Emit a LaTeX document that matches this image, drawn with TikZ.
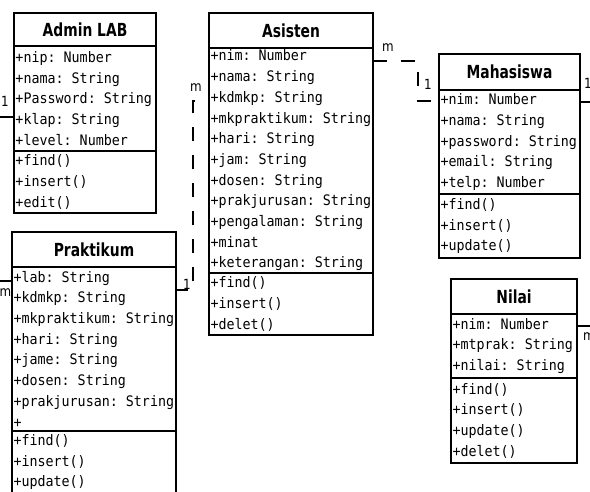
\documentclass[tikz,border=0pt]{standalone}
\usepackage{fontspec}
\usepackage{tikz}
\usetikzlibrary{positioning}
\newfontfamily\attrfont[FakeStretch=0.92]{DejaVu Sans Mono}
\newfontfamily\headfont[FakeStretch=0.77]{DejaVu Sans}
\newfontfamily\multfont[FakeStretch=0.85]{DejaVu Sans}
\newcommand\gap{\hphantom{0}}

\begin{document}
\begin{tikzpicture}[x=1pt, y=-1pt,
    umlhead/.style={draw, line width=1.5pt, outer sep=0pt, inner sep=0pt, anchor=north west,
        font=\headfont\bfseries\fontsize{18}{20}\selectfont},
    umlbody/.style={draw, line width=1.5pt, outer sep=0pt, inner xsep=1.5pt, inner ysep=0pt,
        align=left, font=\attrfont\fontsize{14.5}{20.7}\selectfont},
    assoc/.style={line width=1.5pt},
    dep/.style={line width=1.5pt, dash pattern=on 14pt off 14pt},
    mult/.style={font=\multfont\fontsize{14}{15}\selectfont, inner sep=0pt}]

\path[use as bounding box, clip] (0,0) rectangle (590,491);

% Admin LAB
\node[umlhead, minimum width=142, minimum height=33] (admin) at (14,13) {Admin LAB};
\node[umlbody, text width=139pt, minimum height=105pt, below=0pt of admin] (adminattr)
    {+nip:\gap Number\\+nama:\gap String\\+Password:\gap String\\+klap:\gap String\\+level:\gap Number};
\node[umlbody, text width=139pt, minimum height=62pt, below=0pt of adminattr] (adminops)
    {+find()\\+insert()\\+edit()};

% Asisten
\node[umlhead, minimum width=164, minimum height=35] (asisten) at (209,13) {Asisten};
\node[umlbody, text width=161pt, minimum height=225pt, below=0pt of asisten] (asattr)
    {+nim:\gap Number\\+nama:\gap String\\+kdmkp:\gap String\\+mkpraktikum:\gap String\\+hari:\gap String\\+jam:\gap String\\+dosen:\gap String\\+prakjurusan:\gap String\\+pengalaman:\gap String\\+minat\\+keterangan:\gap String};
\node[umlbody, text width=161pt, minimum height=62pt, below=0pt of asattr] (asops)
    {+find()\\+insert()\\+delet()};

% Mahasiswa
\node[umlhead, minimum width=141, minimum height=36] (mhs) at (439,54) {Mahasiswa};
\node[umlbody, text width=138pt, minimum height=104pt, below=0pt of mhs] (mhsattr)
    {+nim:\gap Number\\+nama:\gap String\\+password:\gap String\\+email:\gap String\\+telp:\gap Number};
\node[umlbody, text width=138pt, minimum height=64pt, below=0pt of mhsattr] (mhsops)
    {+find()\\+insert()\\+update()};

% Praktikum
\node[umlhead, minimum width=164, minimum height=35] (prakt) at (12,232) {Praktikum};
\node[umlbody, text width=161pt, minimum height=164pt, below=0pt of prakt] (praktattr)
    {+lab:\gap String\\+kdmkp:\gap String\\+mkpraktikum:\gap String\\+hari:\gap String\\+jame:\gap String\\+dosen:\gap String\\+prakjurusan:\gap String\\+};
\node[umlbody, text width=161pt, minimum height=62pt, below=0pt of praktattr] (praktops)
    {+find()\\+insert()\\+update()};

% Nilai
\node[umlhead, minimum width=126, minimum height=35] (nilai) at (451,279) {Nilai};
\node[umlbody, text width=123pt, minimum height=64pt, below=0pt of nilai] (nilaiattr)
    {+nim:\gap Number\\+mtprak:\gap String\\+nilai:\gap String};
\node[umlbody, text width=123pt, minimum height=85pt, below=0pt of nilaiattr] (nilaiops)
    {+find()\\+insert()\\+update()\\+delet()};

% lines leaving the frame
\coordinate (adminend) at (-5,117);
\coordinate (praktend) at (-5,281);
\coordinate (mhsend) at (595,102);
\coordinate (nilaiend) at (595,326);
\draw[assoc] ([yshift=-71pt]adminattr.north west) -- (adminend);
\draw[assoc] ([yshift=-14pt]praktattr.north west) -- (praktend);
\draw[assoc] ([yshift=-12pt]mhsattr.north east) -- (mhsend);
\draw[assoc] ([yshift=-12pt]nilaiattr.north east) -- (nilaiend);

% dashed links
\draw[dep, dash phase=2pt] ([yshift=-23pt]praktattr.north east) -- ++(17,0) |- ([yshift=-53pt]asattr.north west);
\draw[dep] ([yshift=-13pt]asattr.north east) -- ++(45,0) |- ([yshift=-11pt]mhsattr.north west);

% multiplicities
\node[mult] (adminone) at (5,101) {1};
\node[mult] (praktm) at (5.5,293) {m};
\node[mult] (asleftm) at (196,88) {m};
\node[mult] (praktone) at (187,284) {1};
\node[mult] (asrightm) at (388,48) {m};
\node[mult] (mhsone) at (428,84) {1};
\node[mult] (mhsrightone) at (588,83) {1};
\node[mult] (nilaim) at (589,337) {m};

\end{tikzpicture}
\end{document}
